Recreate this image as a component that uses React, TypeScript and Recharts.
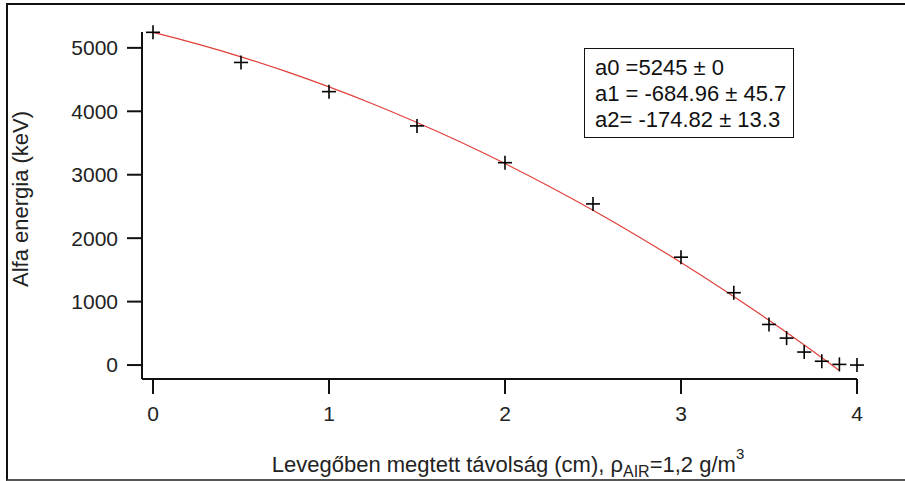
import { ComposedChart, Scatter, Line, XAxis, YAxis, Label } from "recharts";

// measured points: distance in air (cm) vs alpha energy (keV)
const distances = [0, 0.5, 1, 1.5, 2, 2.5, 3, 3.3, 3.5, 3.6, 3.7, 3.8, 3.9, 4];
const energies = [5245, 4770, 4310, 3770, 3190, 2540, 1700, 1140, 640, 425, 205, 60, 10, 0];

// fitted curve
const fitX = [0, 0.25, 0.5, 0.75, 1, 1.25, 1.5, 1.75, 2, 2.25, 2.5, 2.75, 3, 3.25, 3.5, 3.75, 3.9];
const fitY = [5245, 5063, 4859, 4633, 4385, 4116, 3824, 3511, 3176, 2819, 2440, 2039, 1617, 1172, 706, 218, -85];

const xTicks = [0, 1, 2, 3, 4];
const yTicks = [0, 1000, 2000, 3000, 4000, 5000];
const fitLines = ["a0 =5245 ± 0", "a1 = -684.96 ± 45.7", "a2= -174.82 ± 13.3"];

const points = distances.map((d, i) => ({ x: d, y: energies[i] }));
const fit = fitX.map((d, i) => ({ x: d, fit: fitY[i] }));

const font = "'Liberation Sans', Arial, sans-serif";

const Plus = (props: any) => {
  const { cx, cy } = props;
  return (
    <g stroke="#000" strokeWidth={1.6}>
      <line x1={cx - 7} y1={cy} x2={cx + 7} y2={cy} />
      <line x1={cx} y1={cy - 7} x2={cx} y2={cy + 7} />
    </g>
  );
};

const XTitle = () => (
  <text x={508} y={472} textAnchor="middle" fontSize={22} fill="#222" fontFamily={font}>
    Levegőben megtett távolság (cm), ρ
    <tspan fontSize={16} dy={5}>AIR</tspan>
    <tspan dy={-5}>=1,2 g/m</tspan>
    <tspan fontSize={15} dy={-13}>3</tspan>
  </text>
);

const YTitle = () => (
  <text
    x={20}
    y={199}
    transform="rotate(-90 20 199)"
    textAnchor="middle"
    dominantBaseline="central"
    fontSize={22}
    fill="#222"
    fontFamily={font}
  >
    Alfa energia (keV)
  </text>
);

export default function App() {
  return (
    <div style={{ position: "absolute", left: 0, top: 0, width: 905, height: 481, overflow: "hidden", background: "#fff" }}>
      <div
        style={{
          position: "absolute",
          left: 6,
          top: 3,
          width: 920,
          height: 474,
          borderTop: "2px solid #111",
          borderLeft: "2px solid #111",
          borderBottom: "2px solid #555",
        }}
      />
      <ComposedChart
        width={905}
        height={481}
        margin={{ top: 32, right: 48, bottom: 0, left: 0 }}
        style={{ position: "absolute", left: 0, top: 0 }}
      >
        <XAxis
          type="number"
          dataKey="x"
          domain={[-0.0625, 4]}
          ticks={xTicks}
          height={102}
          tickSize={15}
          tickMargin={12}
          stroke="#111"
          strokeWidth={2}
          tick={{ fontSize: 21, fill: "#222", fontFamily: font }}
        >
          <Label content={<XTitle />} />
        </XAxis>
        <YAxis
          type="number"
          domain={[-220, 5250]}
          ticks={yTicks}
          width={142}
          tickSize={15}
          tickMargin={9}
          stroke="#111"
          strokeWidth={2}
          tick={{ fontSize: 21, fill: "#222", fontFamily: font }}
        >
          <Label content={<YTitle />} />
        </YAxis>
        <Line
          data={fit}
          dataKey="fit"
          type="monotone"
          stroke="#e0403a"
          strokeWidth={1.2}
          dot={false}
          isAnimationActive={false}
        />
        <Scatter data={points} dataKey="y" shape={<Plus />} isAnimationActive={false} />
      </ComposedChart>
      <div
        style={{
          position: "absolute",
          left: 584,
          top: 48,
          width: 210,
          height: 90,
          border: "1.5px solid #111",
          fontFamily: font,
          fontSize: 22,
          lineHeight: "26px",
          color: "#111",
          padding: "6px 0 0 10px",
          boxSizing: "border-box",
          whiteSpace: "nowrap",
        }}
      >
        {fitLines.map((t) => (
          <div key={t}>{t}</div>
        ))}
      </div>
    </div>
  );
}
